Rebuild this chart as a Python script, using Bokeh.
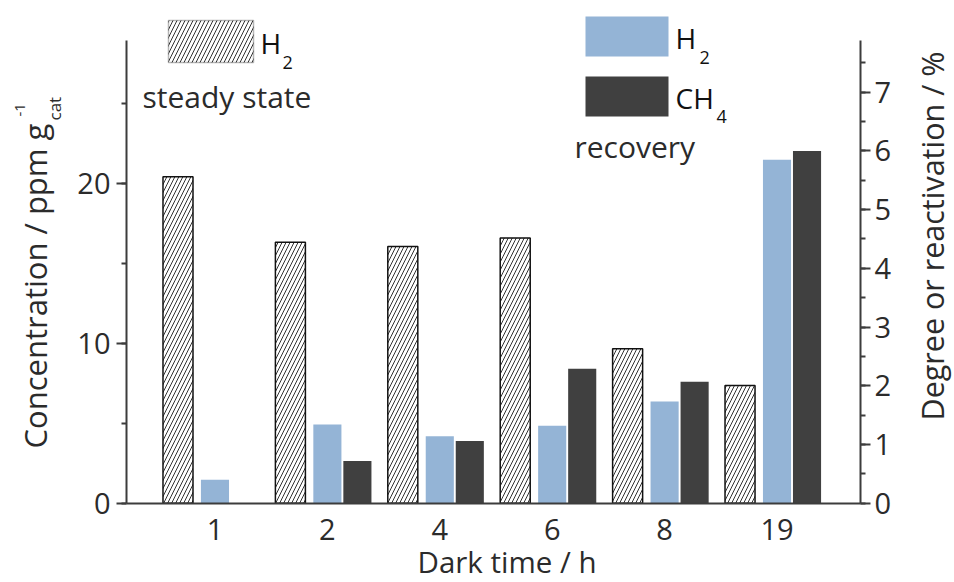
import numpy as np
from bokeh.plotting import figure
from bokeh.models import (ColumnDataSource, Range1d, LinearAxis, SingleIntervalTicker,
                          FixedTicker, Label, BoxAnnotation)
from bokeh.transform import dodge
from bokeh.embed import file_html
from bokeh.resources import INLINE

# ---------------- data ----------------
categories = ["1", "2", "4", "6", "8", "19"]                 # dark time / h
steady_h2 = [20.45, 16.34, 16.07, 16.60, 9.67, 7.37]         # ppm g_cat^-1 (left axis)
recovery_h2 = [0.40, 1.34, 1.14, 1.32, 1.73, 5.85]           # % (right axis)
recovery_ch4 = [0.0, 0.72, 1.06, 2.29, 2.07, 6.00]           # % (right axis)

left_max = 29.0
axis_ratio = 3.676          # left units per right unit

# axis placement (in x-range units)
x_left_axis = -0.787
x_right_axis = 5.743

FONT = "Open Sans"
AX = "#3c3c3c"
TXT = "#2b2b2b"
BLUE = "#94b4d6"
DARK = "#404040"

x = np.arange(len(categories))
src = ColumnDataSource(dict(x=x, steady=steady_h2, rh2=recovery_h2, rch4=recovery_ch4))

p = figure(width=954, height=582, output_backend="svg", toolbar_location=None, title=None,
           x_range=Range1d(-1.908, 6.579), y_range=Range1d(-4.965, 31.48),
           min_border_left=0, min_border_right=0, min_border_top=0, min_border_bottom=0)
p.extra_y_ranges = {"right": Range1d(-1.351, 8.562)}
p.outline_line_color = None
p.xgrid.visible = False
p.ygrid.visible = False
p.background_fill_color = "white"
p.border_fill_color = "white"

# hatched steady-state bars
p.vbar(x=dodge("x", -0.329), top="steady", width=0.267, source=src,
       fill_color="white", line_color="#111111", line_width=1.5,
       hatch_pattern="/", hatch_color="#333333", hatch_weight=1, hatch_scale=8)
# recovery bars (right axis)
p.vbar(x="x", top="rh2", width=0.25, source=src, fill_color=BLUE, line_color=None,
       y_range_name="right")
p.vbar(x=dodge("x", 0.267), top="rch4", width=0.25, source=src, fill_color=DARK,
       line_color=None, y_range_name="right")

def style_axis(ax):
    ax.axis_line_color = AX
    ax.axis_line_width = 2
    ax.major_tick_line_color = AX
    ax.major_tick_line_width = 2
    ax.minor_tick_line_color = AX
    ax.minor_tick_line_width = 2
    ax.major_tick_in = 0
    ax.minor_tick_in = 0
    ax.major_tick_out = 10
    ax.minor_tick_out = 5
    ax.major_label_text_font = FONT
    ax.major_label_text_font_size = "29px"
    ax.major_label_text_color = TXT

# bottom axis
xa = p.xaxis[0]
style_axis(xa)
xa.ticker = FixedTicker(ticks=list(x))
xa.major_label_overrides = {int(i): c for i, c in zip(x, categories)}
xa.major_tick_out = 0
xa.minor_tick_out = 0
xa.major_label_standoff = 16
xa.fixed_location = 0
xa.bounds = (x_left_axis, x_right_axis)

# left axis
ya = p.yaxis[0]
style_axis(ya)
ya.ticker = SingleIntervalTicker(interval=10, num_minor_ticks=2)
ya.bounds = (0, left_max)
ya.major_label_standoff = 6
ya.fixed_location = x_left_axis

# right axis
ra = LinearAxis(y_range_name="right")
style_axis(ra)
ra.ticker = SingleIntervalTicker(interval=1, num_minor_ticks=2)
ra.bounds = (0, left_max / axis_ratio)
ra.major_label_standoff = 4
ra.fixed_location = x_right_axis
p.add_layout(ra, "right")

H = 582      # screen units: y measured upward from the bottom edge
SHIFT = 0.34  # baseline correction (fraction of font size)

def lab(text, xs, ys_img, size, angle=0.0, color=TXT):
    if angle:
        xs = xs - SHIFT * size
    else:
        ys_img = ys_img - SHIFT * size
    p.add_layout(Label(x=xs, y=H - ys_img, x_units="screen", y_units="screen", text=text,
                       text_font=FONT, text_font_size=f"{size}px", text_color=color,
                       text_align="left", text_baseline="alphabetic", angle=angle))

def box(left, right, top_img, bottom_img, **kw):
    p.add_layout(BoxAnnotation(left=left, right=right, top=H - top_img, bottom=H - bottom_img,
                               left_units="screen", right_units="screen",
                               top_units="screen", bottom_units="screen", fill_alpha=1, **kw))

# axis titles
lab("Concentration / ppm g", 45, 448, 31, np.pi / 2)
lab("cat", 60, 120, 17, np.pi / 2)
lab("-1", 25, 116, 15, np.pi / 2)
lab("Degree or reactivation / %", 942, 420, 30.5, np.pi / 2)
lab("Dark time / h", 417, 571, 29.5)

# legend: steady state
box(168, 253, 20, 62, fill_color="white", line_color="#111111", line_width=1.5,
    hatch_pattern="/", hatch_color="#333333", hatch_weight=1, hatch_scale=8)
lab("H", 260, 52, 28, color="#111111")
lab("2", 282, 68, 18, color="#111111")
lab("steady state", 142, 106, 30)

# legend: recovery
box(585, 668, 16, 56, fill_color=BLUE, line_color=None)
box(585, 668, 76, 116, fill_color=DARK, line_color=None)
lab("H", 675, 47, 28, color="#111111")
lab("2", 699, 63, 18, color="#111111")
lab("CH", 675, 107, 28, color="#111111")
lab("4", 716, 122, 18, color="#111111")
lab("recovery", 574, 156, 30)

open("out.html", "w").write(file_html(p, INLINE))
